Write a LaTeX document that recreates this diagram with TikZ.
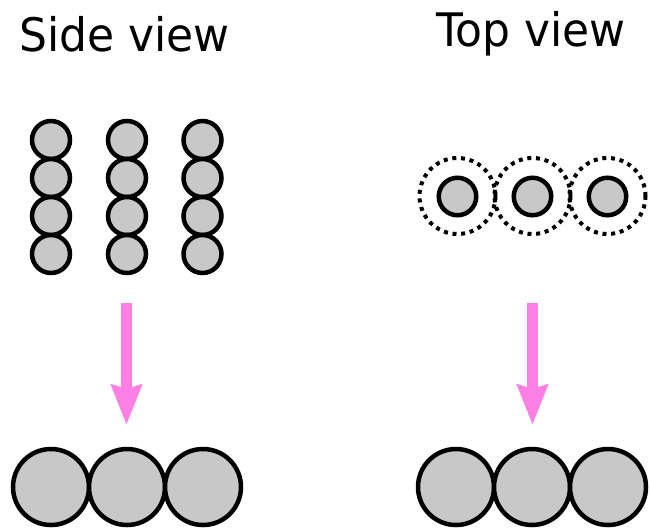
\documentclass[tikz,border=0pt]{standalone}
\usepackage{fontspec}
\setmainfont{DejaVu Sans}
\usetikzlibrary{arrows.meta}
\definecolor{ballgray}{RGB}{200,200,200}
\definecolor{arrowpink}{RGB}{255,128,229}

\begin{document}
\begin{tikzpicture}[x=1pt, y=-1pt,
  every node/.style={font=\fontsize{44}{52}\selectfont},
  ball/.style={circle, draw, line width=4.5pt, fill=ballgray, inner sep=0pt, minimum size=#1},
  halo/.style={circle, draw, line width=4pt, dash pattern=on 4pt off 4.7pt, inner sep=0pt, minimum size=76pt},
  flow/.style={line width=11pt, arrowpink, -{Stealth[width=30pt,length=40pt,inset=4pt]}}]
\useasboundingbox (0,0) rectangle (650,528);

% Titles
\node[anchor=base, yscale=1.05] (side) at (124.5,51) {Side view};
\node[anchor=base, yscale=1.05] (top) at (531,46) {Top view};

% Side view: three columns of four small balls
\foreach \c/\x in {1/51,2/127,3/202.5}
  \foreach \r in {1,...,4}
    \node[ball=38pt] (s\c\r) at (\x,{102+38*\r}) {};

% Top view: small balls with dotted rings
\foreach \c/\x in {1/457.5,2/532.5,3/607.5} {
  \node[halo] (h\c) at (\x,196) {};
  \node[ball=37.5pt] (t\c) at (\x,196.5) {};
}

% Arrows down
\coordinate (sa) at (126.5,303);
\coordinate (sb) at (126.5,425);
\coordinate (ta) at (532.5,303);
\coordinate (tb) at (532.5,425);
\draw[flow] (sa) -- (sb);
\draw[flow] (ta) -- (tb);

% Bottom: big balls
\node[ball=76pt] (b1) at (51,487) {};
\node[ball=76pt] (b2) at (127,487) {};
\node[ball=76pt] (b3) at (203,487) {};
\node[ball=76pt] (c1) at (456,487) {};
\node[ball=76pt] (c2) at (532,487) {};
\node[ball=76pt] (c3) at (608,487) {};
\end{tikzpicture}
\end{document}
